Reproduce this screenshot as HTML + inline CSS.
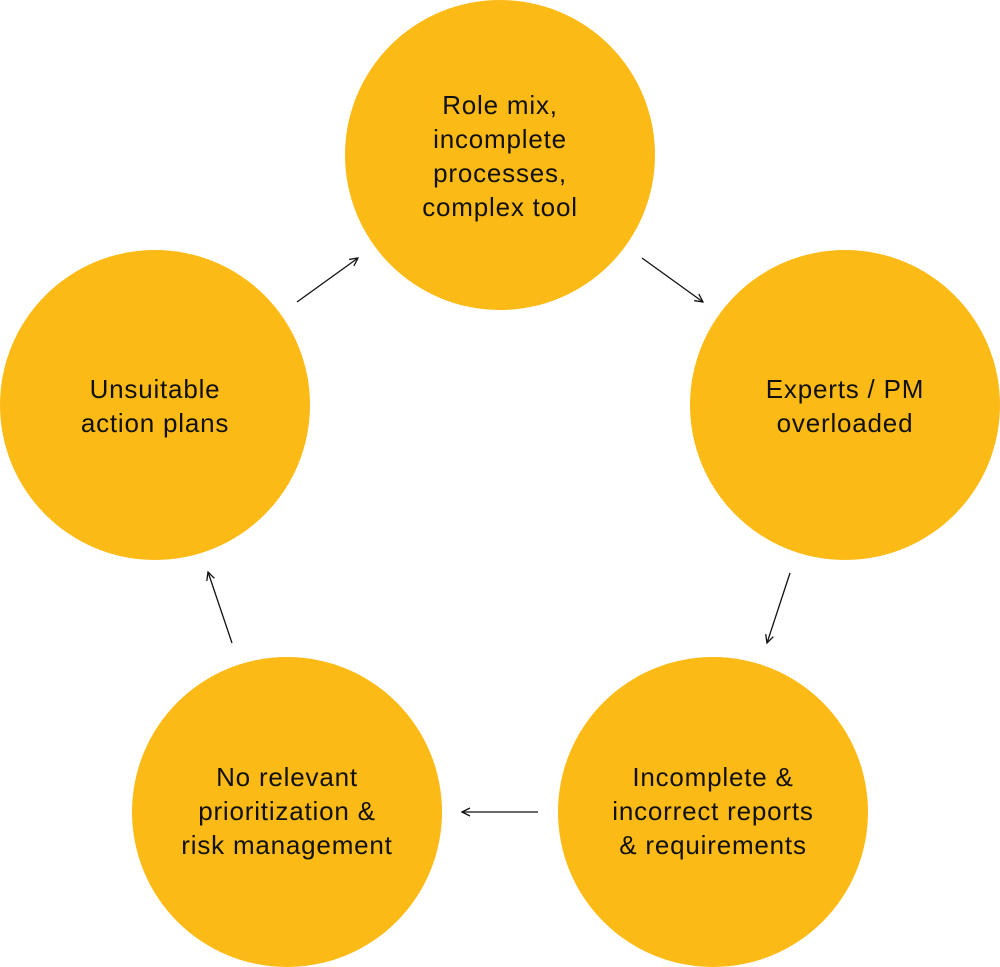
<!DOCTYPE html>
<html><head><meta charset="utf-8"><style>html,body{margin:0;padding:0;background:#fff}svg{display:block}</style></head>
<body>
<svg width="1000" height="967" viewBox="0 0 1000 967" xmlns="http://www.w3.org/2000/svg">
<defs><marker id="a" viewBox="0 0 10 10" refX="9" refY="5" markerWidth="10" markerHeight="10" markerUnits="userSpaceOnUse" orient="auto"><path d="M1 1 L9 5 L1 9" fill="none" stroke="#111" stroke-width="1.3"/></marker></defs>
<g fill="#FBBA16">
<circle cx="500" cy="155" r="155"/>
<circle cx="845" cy="405" r="155"/>
<circle cx="713" cy="812" r="155"/>
<circle cx="287" cy="812" r="155"/>
<circle cx="155" cy="405" r="155"/>
</g>
<g stroke="#111" stroke-width="1.3" marker-end="url(#a)">
<line x1="642" y1="258" x2="703" y2="302"/>
<line x1="790" y1="573" x2="767" y2="643"/>
<line x1="538" y1="812" x2="462" y2="812"/>
<line x1="232" y1="643" x2="208" y2="572"/>
<line x1="297" y1="302" x2="358" y2="258"/>
</g>
<g font-family="Liberation Sans, sans-serif" font-size="26" letter-spacing="0.8" fill="#111" text-anchor="middle">
<text x="500" y="114">Role mix,</text>
<text x="500" y="148">incomplete</text>
<text x="500" y="182">processes,</text>
<text x="500" y="216">complex tool</text>
<text x="845" y="398">Experts / PM</text>
<text x="845" y="432">overloaded</text>
<text x="713" y="786">Incomplete &amp;</text>
<text x="713" y="820">incorrect reports</text>
<text x="713" y="854">&amp; requirements</text>
<text x="287" y="786">No relevant</text>
<text x="287" y="820">prioritization &amp;</text>
<text x="287" y="854">risk management</text>
<text x="155" y="398">Unsuitable</text>
<text x="155" y="432">action plans</text>
</g>
</svg>
</body></html>
